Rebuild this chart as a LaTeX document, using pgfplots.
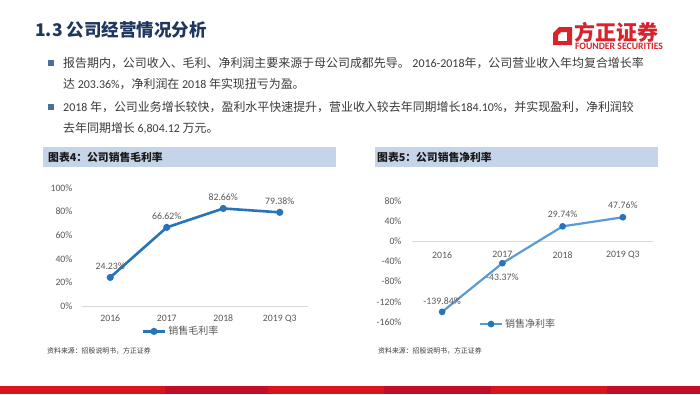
\documentclass[border=0pt]{standalone}
\usepackage{fontspec}
\setmainfont{Carlito}
\newfontfamily\cjk{Noto Sans CJK SC}
\usepackage{graphicx}
\usepackage{pgfplots}
\pgfplotsset{compat=1.18}
\usepackage{pgfplotstable}

\definecolor{titlenavy}{HTML}{1F3660}
\definecolor{bodytext}{HTML}{3A3A3A}
\definecolor{bulletblue}{HTML}{4F6D9A}
\definecolor{headfill}{HTML}{C5D4E8}
\definecolor{lineA}{HTML}{2874B8}
\definecolor{lineB}{HTML}{5B9BD5}
\definecolor{axgray}{HTML}{D9D9D9}
\definecolor{labgray}{HTML}{595959}
\definecolor{redA}{HTML}{D9141C}
\definecolor{redB}{HTML}{C10F27}
\definecolor{logored}{HTML}{D8232A}

\pgfplotstableread{
x y dy
0 24.23 11
1 66.62 11
2 82.66 11
3 79.38 11
}\grossdata

\pgfplotstableread{
x y dy
0 -139.84 11
1 -43.37 -14
2 29.74 12
3 47.76 12
}\netdata

\pgfplotsset{
  slidechart/.style={
    scale only axis, clip=false,
    xmin=-0.5, xmax=3.5,
    xtick={0,1,2,3}, xticklabels={2016,2017,2018,2019 Q3},
    axis line style={draw=none}, major tick length=0pt,
    tick label style={font=\fontsize{9.8}{11}\selectfont, text=labgray},
    /pgf/number format/assume math mode=true,
    yticklabel={\pgfmathprintnumber{\tick}\%},
    extra y ticks={0}, extra y tick labels={},
    extra y tick style={ymajorgrids=true, major grid style={draw=axgray, line width=0.9pt}},
    legend style={draw=none, fill=none, font=\cjk\fontsize{10}{12}\selectfont, text=labgray, anchor=center},
    legend image code/.code={\draw[mark repeat=2,mark phase=2,##1] plot coordinates {(0pt,0pt) (11pt,0pt) (22pt,0pt)};},
    nodes near coords={\pgfmathprintnumber[fixed,fixed zerofill,precision=2]{\pgfplotspointmeta}\%},
    point meta=y,
    visualization depends on={\thisrow{dy}\as\dy},
    every node near coord/.append style={anchor=center, yshift=\dy pt, font=\fontsize{9.8}{11}\selectfont, text=labgray},
  }
}

\begin{document}
\begin{tikzpicture}
\useasboundingbox (0pt,0pt) rectangle (700pt,-394pt);
\fill[white] (0pt,0pt) rectangle (700pt,-394pt);

\begin{scope}[x=1pt,y=-1pt]
% title
\node[anchor=west, inner sep=0, text=titlenavy, font=\cjk\bfseries\fontsize{17.5}{20}\selectfont] at (35,30) {1.3 公司经营情况分析};
% logo
\fill[logored, even odd rule] (553,45) -- (553,33) -- (559,27) -- (572,27) -- (572,45) -- cycle
  (558,41) -- (558,35) -- (561,32) -- (567,32) -- (567,41) -- cycle;
\node[anchor=west, inner sep=0, text=logored, font=\cjk\bfseries\fontsize{21}{24}\selectfont] at (574,32) {方正证券};
\node[anchor=center, inner sep=0, text=logored, font=\bfseries\fontsize{6.5}{7}\selectfont] at (619,46) {\resizebox{88pt}{!}{FOUNDER SECURITIES}};

% bullets
\fill[bulletblue] (48,59.5) rectangle (54,65.5);
\fill[bulletblue] (48,103.5) rectangle (54,109.5);
\begin{scope}[every node/.style={anchor=west, inner sep=0, text=bodytext, font=\fontsize{11.95}{14}\selectfont}]
\node at (63,63) {{\cjk 报告期内，公司收入、毛利、净利润主要来源于母公司成都先导。} 2016-2018{\cjk 年，公司营业收入年均复合增长率}};
\node at (63,84) {{\cjk 达} 203.36\%{\cjk ，净利润在} 2018 {\cjk 年实现扭亏为盈。}};
\node at (63,107) {2018 {\cjk 年，公司业务增长较快，盈利水平快速提升，营业收入较去年同期增长}184.10\%{\cjk ，并实现盈利，净利润较}};
\node at (63,128) {{\cjk 去年同期增长} 6,804.12 {\cjk 万元。}};
\end{scope}

% chart headers
\fill[headfill] (43,147) rectangle (336,167);
\fill[headfill] (375,147) rectangle (658,167);
\node[anchor=west, inner sep=0, text=black!90, font=\cjk\bfseries\fontsize{10.8}{12}\selectfont] at (48,157) {图表4：公司销售毛利率};
\node[anchor=west, inner sep=0, text=black!90, font=\cjk\bfseries\fontsize{10.8}{12}\selectfont] at (377,157) {图表5：公司销售净利率};

% sources
\node[anchor=west, inner sep=0, text=bodytext, font=\cjk\fontsize{6.9}{8}\selectfont] at (47,351) {资料来源：招股说明书，方正证券};
\node[anchor=west, inner sep=0, text=bodytext, font=\cjk\fontsize{6.9}{8}\selectfont] at (378,351) {资料来源：招股说明书，方正证券};

% bottom band
\fill[redA] (0,386) rectangle (165,394);
\fill[redB] (165,386) rectangle (268,394);
\fill[redA] (268,386) rectangle (384,394);
\fill[redB] (384,386) rectangle (491,394);
\fill[redA] (491,386) rectangle (607,394);
\fill[redB] (607,386) rectangle (700,394);
\end{scope}

% left chart
\begin{axis}[slidechart,
  at={(82pt,-306pt)}, anchor=south west,
  width=226pt, height=118pt,
  ymin=0, ymax=100, ytick={0,20,...,100},
  xticklabel style={yshift=-5.5pt},
  yticklabel style={xshift=-6pt},
  legend style={at={(0.438,-0.215)}},
]
\addplot[lineA, line width=2.6pt, mark=*, mark size=2.2pt, mark options={fill=lineA, draw=lineA}] table[x=x, y=y] {\grossdata};
\addlegendentry{销售毛利率}
\end{axis}

% right chart
\begin{axis}[slidechart,
  at={(412pt,-322pt)}, anchor=south west,
  width=241pt, height=121pt,
  ymin=-160, ymax=80, ytick={-160,-120,...,80},
  xticklabel style={yshift=74pt},
  yticklabel style={xshift=-7pt},
  legend style={at={(0.44,-0.017)}},
]
\addplot[lineB, line width=2.2pt, mark=*, mark size=2.2pt, mark options={fill=lineA, draw=lineA}] table[x=x, y=y] {\netdata};
\addlegendentry{销售净利率}
\end{axis}
\end{tikzpicture}
\end{document}
